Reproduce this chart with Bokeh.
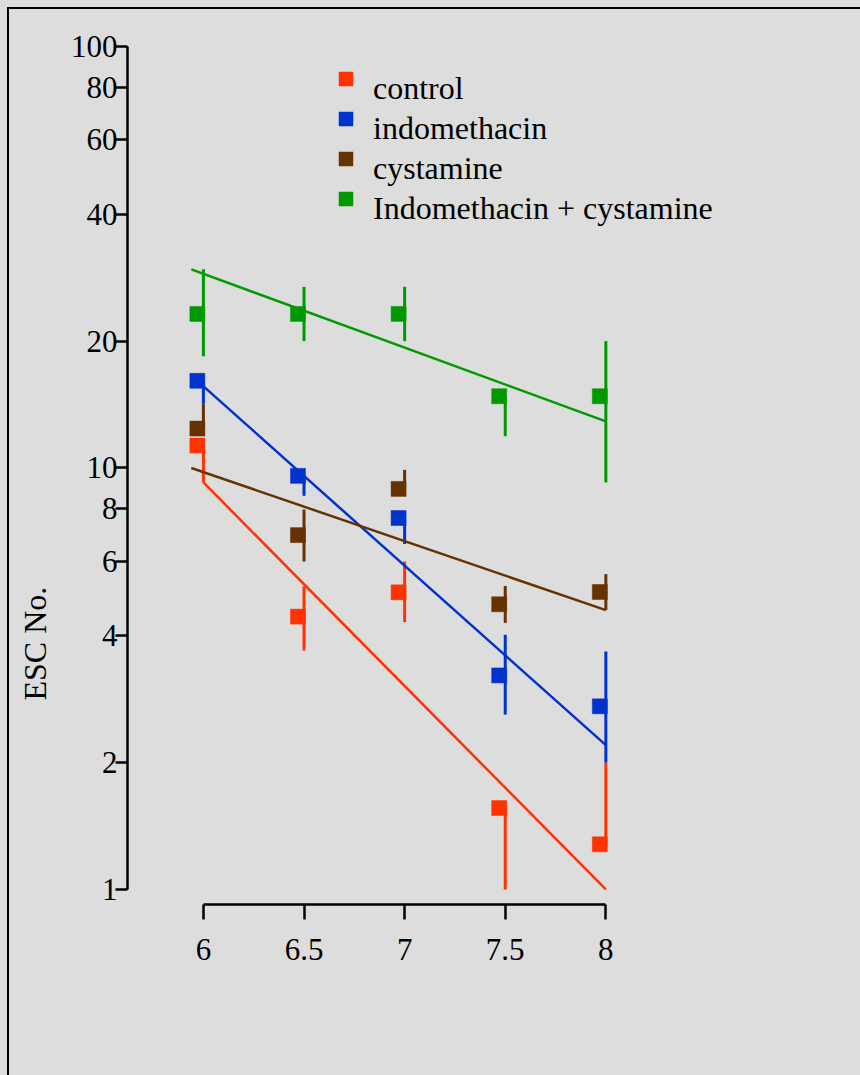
from bokeh.plotting import figure
from bokeh.models import (ColumnDataSource, Range1d, FixedTicker, NumeralTickFormatter,
                          Legend, LegendItem, Title)
from bokeh.transform import dodge
from bokeh.embed import file_html
from bokeh.resources import INLINE

# ---------------- data ----------------
x_values = [6, 6.5, 7, 7.5, 8]
x_ticks = [6, 6.5, 7, 7.5, 8]
y_ticks = [1, 2, 4, 6, 8, 10, 20, 40, 60, 80, 100]

series_names = ["control", "indomethacin", "cystamine", "Indomethacin + cystamine"]
series_colors = ["#ff3300", "#0033cc", "#663300", "#009900"]

control_mean = [11.3, 4.44, 5.07, 1.56, 1.28]
control_low = [9.24, 3.69, 4.31, 1.0, 1.28]
control_high = [11.3, 5.24, 6.0, 1.56, 2.0]

indo_mean = [16.1, 9.58, 7.61, 3.22, 2.72]
indo_low = [14.2, 8.59, 6.60, 2.60, 2.0]
indo_high = [16.1, 9.58, 7.61, 4.02, 3.67]

cyst_mean = [12.4, 6.93, 8.92, 4.75, 5.08]
cyst_low = [12.4, 6.0, 8.92, 4.29, 4.60]
cyst_high = [14.2, 7.97, 9.90, 5.25, 5.60]

combo_mean = [23.2, 23.2, 23.2, 14.8, 14.8]
combo_low = [18.4, 20.0, 20.0, 11.9, 9.24]
combo_high = [29.6, 26.9, 26.9, 14.8, 20.0]

# fitted regression lines (end points)
control_fit_x = [6, 8]
control_fit_y = [9.24, 1.0]
indo_fit_x = [5.97, 8]
indo_fit_y = [16.1, 2.20]
cyst_fit_x = [5.94, 8]
cyst_fit_y = [10.0, 4.60]
combo_fit_x = [5.94, 8]
combo_fit_y = [29.6, 12.9]

means = [control_mean, indo_mean, cyst_mean, combo_mean]
lows = [control_low, indo_low, cyst_low, combo_low]
highs = [control_high, indo_high, cyst_high, combo_high]
fits_x = [control_fit_x, indo_fit_x, cyst_fit_x, combo_fit_x]
fits_y = [control_fit_y, indo_fit_y, cyst_fit_y, combo_fit_y]

y_label = "ESC No."

# ---------------- figure ----------------
BG = "#dddddd"
FONT = "Liberation Serif"

p = figure(width=860, height=1075, output_backend="svg", toolbar_location=None,
           x_range=Range1d(5.6228, 9.2655), y_range=Range1d(0.9213, 128.56),
           y_axis_type="log",
           min_border_left=126, min_border_right=0, min_border_top=0, min_border_bottom=171)
# grey page with the black frame line at the top and the left (it runs off the page on the other sides)
p.styles = {
    "background": ("linear-gradient(#000, #000) 7px 7px / 2px 100% no-repeat, "
                   "linear-gradient(#000, #000) 7px 7px / 100% 2px no-repeat, " + BG),
}
p.background_fill_color = None
p.border_fill_color = None
p.outline_line_color = None
p.grid.visible = False

# axes
for ax in (p.xaxis[0], p.yaxis[0]):
    ax.axis_line_color = "black"
    ax.axis_line_width = 2.5
    ax.major_tick_line_color = "black"
    ax.major_tick_line_width = 2.5
    ax.minor_tick_line_color = None
    ax.major_tick_in = 0
    ax.major_label_text_font = FONT
    ax.major_label_text_font_size = "31px"
    ax.major_label_text_color = "black"

p.xaxis.ticker = FixedTicker(ticks=x_ticks, minor_ticks=[])
p.xaxis.formatter = NumeralTickFormatter(format="0.[0]")
p.xaxis.bounds = (x_ticks[0], x_ticks[-1])
p.xaxis.major_tick_out = 15
p.xaxis.major_label_standoff = 19

p.yaxis.ticker = FixedTicker(ticks=y_ticks, minor_ticks=[])
p.yaxis.formatter = NumeralTickFormatter(format="0")
p.yaxis.bounds = (y_ticks[0], y_ticks[-1])
p.yaxis.major_tick_out = 12
p.yaxis.major_label_standoff = -2

# data
marker_renderers = []
line_renderers = []
for name, color, m, lo, hi, fx, fy in zip(series_names, series_colors, means, lows, highs, fits_x, fits_y):
    lr = p.line(x=fx, y=fy, line_color=color, line_width=2.5)
    line_renderers.append(lr)
    src = ColumnDataSource(dict(x=x_values, mean=m, low=lo, high=hi))
    p.segment(x0="x", y0="low", x1="x", y1="high", source=src, line_color=color, line_width=3)
    r = p.scatter(x=dodge("x", -0.03), y="mean", source=src, marker="square", size=15,
                  fill_color=color, line_color=color, line_width=0.5)
    marker_renderers.append(r)

# legend: the squares sit at the top of each text line, so the key squares and
# the key texts are laid out as two aligned columns
legend_keys = Legend(items=[LegendItem(label="", renderers=[r]) for r in marker_renderers],
                     location=(201, 688), orientation="vertical",
                     glyph_width=35, glyph_height=35, label_height=1, label_width=1, spacing=5,
                     padding=0, margin=0, label_standoff=0,
                     background_fill_alpha=0, border_line_alpha=0,
                     label_text_font_size="1px")
legend_text = Legend(items=[LegendItem(label=n, renderers=[r]) for n, r in zip(series_names, line_renderers)],
                     location=(246, 677), orientation="vertical",
                     glyph_width=0, glyph_height=20, label_height=20, spacing=3,
                     padding=0, margin=0, label_standoff=0,
                     background_fill_alpha=0, border_line_alpha=0,
                     label_text_font=FONT, label_text_font_size="32px",
                     label_text_color="black")
p.add_layout(legend_keys, "center")
p.add_layout(legend_text, "center")

p.add_layout(Title(text=y_label, align="left", offset=204, standoff=29,
                   text_font=FONT, text_font_size="32px", text_font_style="normal",
                   text_color="black"), "left")

open("out.html", "w").write(file_html(p, INLINE))
